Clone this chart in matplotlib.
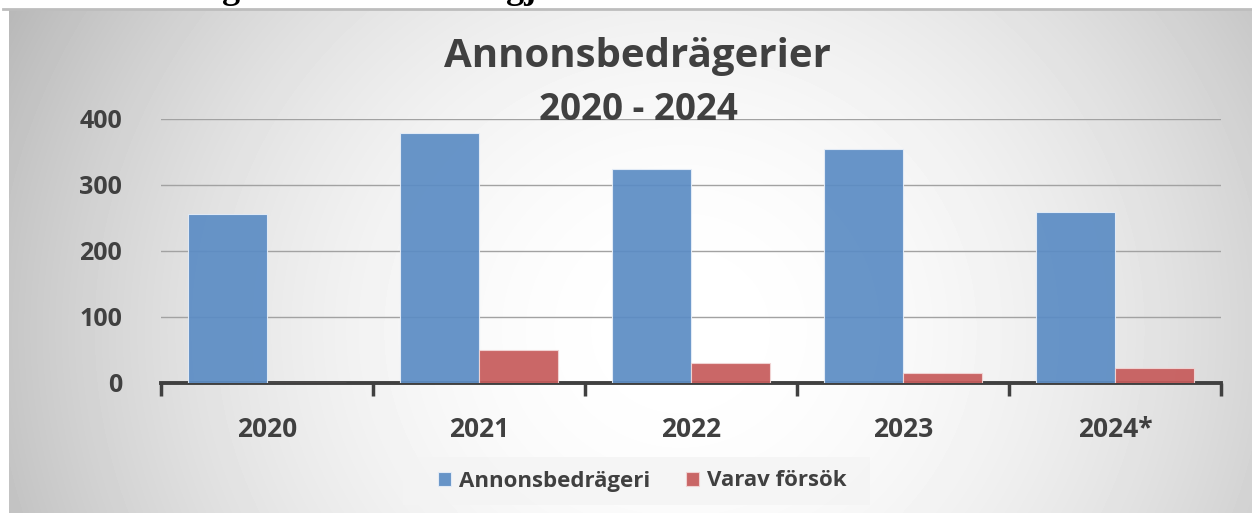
import matplotlib.pyplot as plt
import numpy as np

years = ['2020', '2021', '2022', '2023', '2024*']
annons = [256, 379, 324, 355, 259]
forsok = [0, 50, 30, 15, 23]
y_ticks = [0, 100, 200, 300, 400]

W, H = 1252, 513
fig = plt.figure(figsize=(W / 100, H / 100), dpi=100)
fig.patch.set_facecolor('white')

# radial grey background of the chart area
bg = fig.add_axes([0, 0, 1, 1], zorder=0)
bg.set_xlim(0, W)
bg.set_ylim(H, 0)
bg.axis('off')
xx, yy = np.meshgrid(np.arange(9, W), np.arange(9, H))
d = np.sqrt(((xx - 680) / 700.0) ** 2 + ((yy - 330) / 650.0) ** 2)
shade = 1 - 0.24 * np.clip(d, 0, 1.3) ** 2
bg.imshow(shade, cmap='gray', vmin=0, vmax=1, extent=[9, W, H, 9], aspect='auto')
bg.plot([3, W], [8.5, 8.5], color='#bdbdbd', lw=2)

# legend backdrop
bg.add_patch(plt.Rectangle((403, 457), 467, 48, facecolor='#f4f4f4', edgecolor='none', alpha=0.8))

# cut off heading above the chart (only the descenders show)
fig.text(222 / W, 1.004, 'g', fontsize=26, family='Liberation Serif', weight='bold', va='baseline')
fig.text(506 / W, 1.004, 'gj', fontsize=26, family='Liberation Serif', weight='bold', va='baseline')

plt.rcParams['font.family'] = ['Open Sans', 'DejaVu Sans']
txt = '#404040'

ax = fig.add_axes([161 / W, 130 / H, 1060 / W, 264 / H], zorder=1)
ax.patch.set_alpha(0)
x = np.arange(len(years))
w = 0.37
b1 = ax.bar(x - 0.186, annons, w, color='#5b8cc4', alpha=0.92, edgecolor='#e6eef8', lw=0.8,
            label='Annonsbedrägeri', zorder=3)
b2 = ax.bar(x + 0.186, forsok, w, color='#c65a5a', alpha=0.92, edgecolor='#f2d6d6', lw=0.8,
            label='Varav försök', zorder=3)

ax.set_xlim(-0.5, len(years) - 0.5)
ax.set_ylim(0, 400)
ax.set_yticks(y_ticks)
ax.set_yticklabels([str(v) for v in y_ticks], fontsize=18, fontweight='bold', color=txt)
ax.tick_params(axis='y', length=0, pad=28)
ax.set_xticks(x)
ax.set_xticklabels(years, fontsize=19, fontweight='bold', color=txt)
ax.set_xticks(np.arange(-0.5, len(years)), minor=True)
ax.tick_params(axis='x', which='major', length=0, pad=24)
ax.tick_params(axis='x', which='minor', length=9, width=2.5, color=txt, direction='out')
ax.grid(axis='y', color='#a2a2a2', lw=1, zorder=0)
for s in ['left', 'right', 'top']:
    ax.spines[s].set_visible(False)
ax.spines['bottom'].set_color(txt)
ax.spines['bottom'].set_linewidth(2.8)

fig.text(637 / W, 1 - 56 / H, 'Annonsbedrägerier', ha='center', va='center',
         fontsize=29, fontweight='bold', color=txt)
fig.text(638 / W, 1 - 110 / H, '2020 - 2024', ha='center', va='center',
         fontsize=26.5, fontweight='bold', color=txt)

leg = fig.legend(handles=[b1, b2], loc='center', bbox_to_anchor=(642 / W, 32 / H), ncol=2,
                 frameon=False, fontsize=16, handlelength=0.6, handleheight=0.6,
                 handletextpad=0.35, columnspacing=1.6)
for t in leg.get_texts():
    t.set_fontweight('bold')
    t.set_color(txt)

plt.savefig('out.png', dpi=100)
